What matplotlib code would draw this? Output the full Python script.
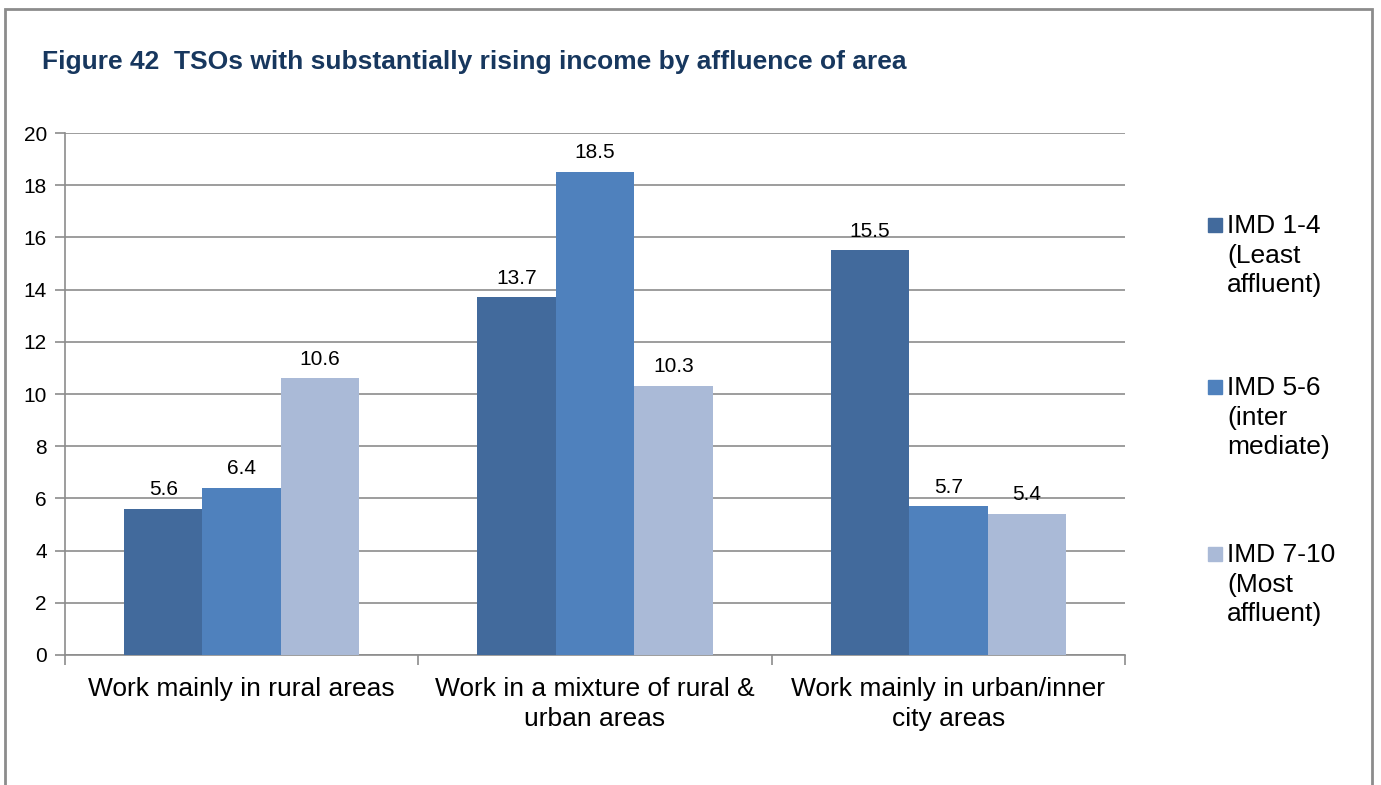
import matplotlib.pyplot as plt
from matplotlib.patches import Rectangle
import numpy as np

plt.rcParams['font.family'] = ['Liberation Sans', 'DejaVu Sans']

categories = ["Work mainly in rural areas",
              "Work in a mixture of rural &\nurban areas",
              "Work mainly in urban/inner\ncity areas"]
series_names = ["IMD 1-4\n(Least\naffluent)",
                "IMD 5-6\n(inter\nmediate)",
                "IMD 7-10\n(Most\naffluent)"]
imd_1_4 = [5.6, 13.7, 15.5]
imd_5_6 = [6.4, 18.5, 5.7]
imd_7_10 = [10.6, 10.3, 5.4]
colors = ['#426A9C', '#4F81BD', '#AABAD7']

fig = plt.figure(figsize=(13.81, 7.85), dpi=100)
# outer frame
fig.add_artist(Rectangle((5/1381, -0.05), 1367/1381, 1.05 - 9/785, transform=fig.transFigure,
                         fill=False, edgecolor='#8c8c8c', linewidth=2))
fig.text(42/1381, 1 - 62/785, "Figure 42  TSOs with substantially rising income by affluence of area",
         fontsize=19, fontweight='bold', color='#17375E', va='center', ha='left')

ax = fig.add_axes([65/1381, 1 - 655/785, 1060/1381, 522/785])
x = np.arange(len(categories))
w = 0.222
for i, vals in enumerate([imd_1_4, imd_5_6, imd_7_10]):
    bars = ax.bar(x + (i - 1) * w, vals, w, color=colors[i], zorder=3)
    for b, v in zip(bars, vals):
        ax.annotate(f"{v}", (b.get_x() + b.get_width() / 2, v), xytext=(0, 7),
                    textcoords='offset points', ha='center', va='bottom', fontsize=15)

ax.set_xlim(-0.5, 2.5)
ax.set_ylim(0, 20)
ax.set_yticks(range(0, 21, 2))
ax.yaxis.grid(True, color='#8c8c8c', linewidth=1.2, zorder=0)
ax.set_xticks([-0.5, 0.5, 1.5, 2.5])
ax.set_xticklabels([])
ax.set_xticks(x, minor=True)
ax.set_xticklabels(categories, minor=True, fontsize=19, linespacing=1.3)
ax.tick_params(axis='x', which='minor', length=0, pad=16)
ax.tick_params(axis='x', which='major', length=7, color='#8c8c8c', width=1.2)
ax.tick_params(axis='y', length=7, color='#8c8c8c', width=1.2, labelsize=15, pad=6)
for s in ['top', 'right']:
    ax.spines[s].set_visible(False)
for s in ['left', 'bottom']:
    ax.spines[s].set_color('#8c8c8c')
    ax.spines[s].set_linewidth(1.2)

# legend
leg_tops = [226, 388, 555]
for name, c, yt in zip(series_names, colors, leg_tops):
    fig.add_artist(Rectangle((1208/1381, 1 - (yt + 6)/785), 14/1381, 14/785,
                             transform=fig.transFigure, color=c))
    fig.text(1227/1381, 1 - (yt - 12)/785, name, fontsize=19, va='top', ha='left',
             linespacing=1.3)

fig.savefig('out.png', dpi=100)
